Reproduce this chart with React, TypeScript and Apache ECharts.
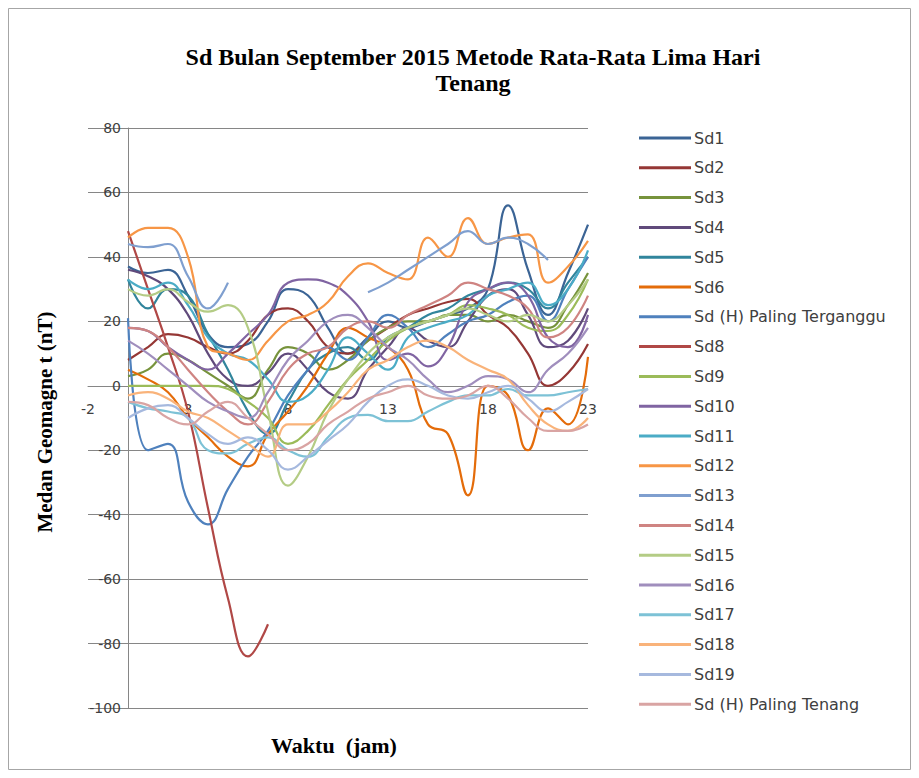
import React, { useEffect, useRef } from "react";
import * as echarts from "echarts";

const categories = ["-2","-1","0","1","2","3","4","5","6","7","8","9","10","11","12","13","14","15","16","17","18","19","20","21","22","23"];
const yTicks = { min: -100, max: 80, interval: 20 };

const seriesNames = ["Sd1","Sd2","Sd3","Sd4","Sd5","Sd6","Sd (H) Paling Terganggu","Sd8","Sd9","Sd10","Sd11","Sd12","Sd13","Sd14","Sd15","Sd16","Sd17","Sd18","Sd19","Sd (H) Paling Tenang"];
const seriesColors = ["#3B6495","#953735","#77933C","#604A7B","#31859C","#E46C0A","#4F81BD","#B04846","#9BBB59","#8064A2","#4BACC6","#F79646","#7F9FCF","#CF8482","#B4CC85","#A08EBD","#7DC2D6","#F9B37A","#A6B9DE","#D9A4A3"];

// hourly values, hours 0..23
const sd1 = [37,35,36,28,16,12,13,20,30,28,18,10,15,20,18,20,22,24,30,56,36,22,35,50];
const sd2 = [8,12,16,15,12,10,14,22,24,20,12,10,14,18,22,24,26,27,22,18,10,0,4,13];
const sd3 = [3,5,10,8,4,0,-4,5,12,10,5,8,14,18,20,20,22,22,20,22,20,18,25,35];
const sd4 = [36,34,30,22,10,2,0,4,10,5,-2,-4,5,12,18,14,12,20,28,30,22,12,14,24];
const sd5 = [33,24,30,28,16,5,-8,-15,-5,5,10,12,8,15,18,22,24,28,30,32,30,24,32,40];
const sd6 = [5,2,-2,-10,-16,-22,-25,-15,-8,0,10,18,15,12,5,-12,-15,-34,0,-3,-20,-7,-12,9];
const sdTerganggu = [21,-20,-18,-36,-43,-32,-22,-14,-3,5,12,8,15,22,18,12,16,20,22,26,28,20,30,40];
const sd8 = [48,30,12,-8,-38,-66,-84,-74,null,null,null,null,null,null,null,null,null,null,null,null,null,null,null,null];
const sd9 = [0,0,0,0,0,-1,-5,-10,-18,-14,-6,2,8,14,18,20,22,25,24,22,18,17,22,33];
const sd10 = [18,17,12,8,5,10,16,22,32,33,32,28,20,8,10,6,12,26,30,32,28,15,12,22];
const sd11 = [33,30,32,25,15,10,8,2,-5,-3,5,15,10,5,15,18,20,22,28,30,32,25,30,42];
const sd12 = [46,49,49,40,12,10,8,14,20,22,26,34,38,35,33,46,40,52,44,46,47,32,37,45];
const sd13 = [44,43,44,34,24,32,null,null,null,null,null,null,29,32,36,40,44,48,44,46,44,39,null,null];
const sd14 = [18,17,12,5,-2,-8,-12,-5,5,10,12,18,20,18,22,25,28,32,30,28,24,15,18,28];
const sd15 = [30,28,30,26,23,25,18,-8,-31,-22,-8,2,10,15,18,20,22,24,22,20,22,20,25,33];
const sd16 = [14,10,5,0,-5,-8,-10,-2,8,14,20,22,18,12,8,2,-2,0,3,2,-2,5,10,18];
const sd17 = [-5,-7,-8,-10,-20,-21,-18,-16,-20,-22,-16,-10,-9,-11,-11,-8,-5,-3,-3,-1,-3,-3,-2,-1];
const sd18 = [-3,-2,-4,-8,-10,-14,-18,-22,-12,-12,-8,-2,5,8,12,14,12,8,5,2,-6,-12,-14,-10];
const sd19 = [-10,-7,-6,-10,-15,-18,-16,-20,-26,-22,-17,-12,-5,0,2,0,-3,-4,-2,0,-4,-8,-5,-1];
const sdTenang = [-5,-6,-10,-12,-8,-5,-10,-15,-20,-18,-12,-8,-4,-2,0,-3,-4,-3,0,-4,-10,-14,-14,-12];

const seriesValues = [sd1,sd2,sd3,sd4,sd5,sd6,sdTerganggu,sd8,sd9,sd10,sd11,sd12,sd13,sd14,sd15,sd16,sd17,sd18,sd19,sdTenang];

const GRID_TOP = 128;
const GRID_BOTTOM_PX = 708;

export default function App() {
  const ref = useRef<HTMLDivElement>(null);
  useEffect(() => {
    if (!ref.current) return;
    const chart = echarts.init(ref.current, null, { renderer: "svg" });
    // x axis crosses the value axis at 0
    const zeroPx = GRID_TOP + (yTicks.max / (yTicks.max - yTicks.min)) * (GRID_BOTTOM_PX - GRID_TOP);
    const xOffset = -(GRID_BOTTOM_PX - zeroPx);
    const series = seriesNames.map((name, i) => ({
      name,
      type: "line",
      smooth: 0.45,
      showSymbol: false,
      symbol: "none",
      connectNulls: false,
      lineStyle: { width: 2.2, color: seriesColors[i] },
      itemStyle: { color: seriesColors[i] },
      data: [null, null, ...seriesValues[i]],
      z: 2 + i,
    }));
    chart.setOption({
      animation: false,
      backgroundColor: "#ffffff",
      title: {
        text: "Sd Bulan September 2015 Metode Rata-Rata Lima Hari\nTenang",
        left: 468,
        top: 39,
        textAlign: "center",
        textStyle: {
          fontFamily: "Liberation Serif",
          fontWeight: "bold",
          fontSize: 24,
          lineHeight: 26,
          color: "#000000",
        },
      },
      legend: {
        orient: "vertical",
        left: 634,
        top: 125,
        itemWidth: 52,
        itemHeight: 3,
        itemGap: 13.8,
        icon: "rect",
        data: seriesNames,
        textStyle: { fontFamily: "DejaVu Sans", fontSize: 16, lineHeight: 16, color: "#404040", padding: [0, 0, 0, -2] },
      },
      grid: { left: 88, right: 331, top: GRID_TOP, bottom: 778 - GRID_BOTTOM_PX, containLabel: false },
      xAxis: {
        type: "category",
        data: categories,
        boundaryGap: false,
        offset: xOffset,
        axisLine: { onZero: false, lineStyle: { color: "#868686", width: 1 } },
        axisTick: { show: false },
        axisLabel: { interval: 4, margin: 16, fontFamily: "DejaVu Sans", fontSize: 14, color: "#404040" },
        splitLine: { show: false },
      },
      yAxis: {
        type: "value",
        min: yTicks.min,
        max: yTicks.max,
        interval: yTicks.interval,
        offset: -40,
        axisLine: { show: true, lineStyle: { color: "#868686", width: 1 } },
        axisTick: { show: false },
        axisLabel: { margin: 7, fontFamily: "DejaVu Sans", fontSize: 14, color: "#404040" },
        splitLine: { show: true, lineStyle: { color: "#868686", width: 1 } },
      },
      graphic: [
        {
          type: "rect",
          shape: { x: 8.5, y: 8.5, width: 902, height: 761 },
          style: { fill: "none", stroke: "#A6A6A6", lineWidth: 1 },
          silent: true,
        },
        {
          type: "text",
          x: 45,
          y: 422,
          rotation: Math.PI / 2,
          style: {
            text: "Medan Geomagne t (nT)",
            fontFamily: "Liberation Serif",
            fontWeight: "bold",
            fontSize: 21,
            fill: "#000000",
            textAlign: "center",
            textVerticalAlign: "middle",
          },
        },
        {
          type: "text",
          x: 334,
          y: 745,
          style: {
            text: "Waktu  (jam)",
            fontFamily: "Liberation Serif",
            fontWeight: "bold",
            fontSize: 22,
            fill: "#000000",
            textAlign: "center",
            textVerticalAlign: "middle",
          },
        },
      ],
      series,
    });
    return () => chart.dispose();
  }, []);
  return (
    <div
      ref={ref}
      style={{ position: "absolute", left: 0, top: 0, width: 919, height: 778 }}
    />
  );
}
